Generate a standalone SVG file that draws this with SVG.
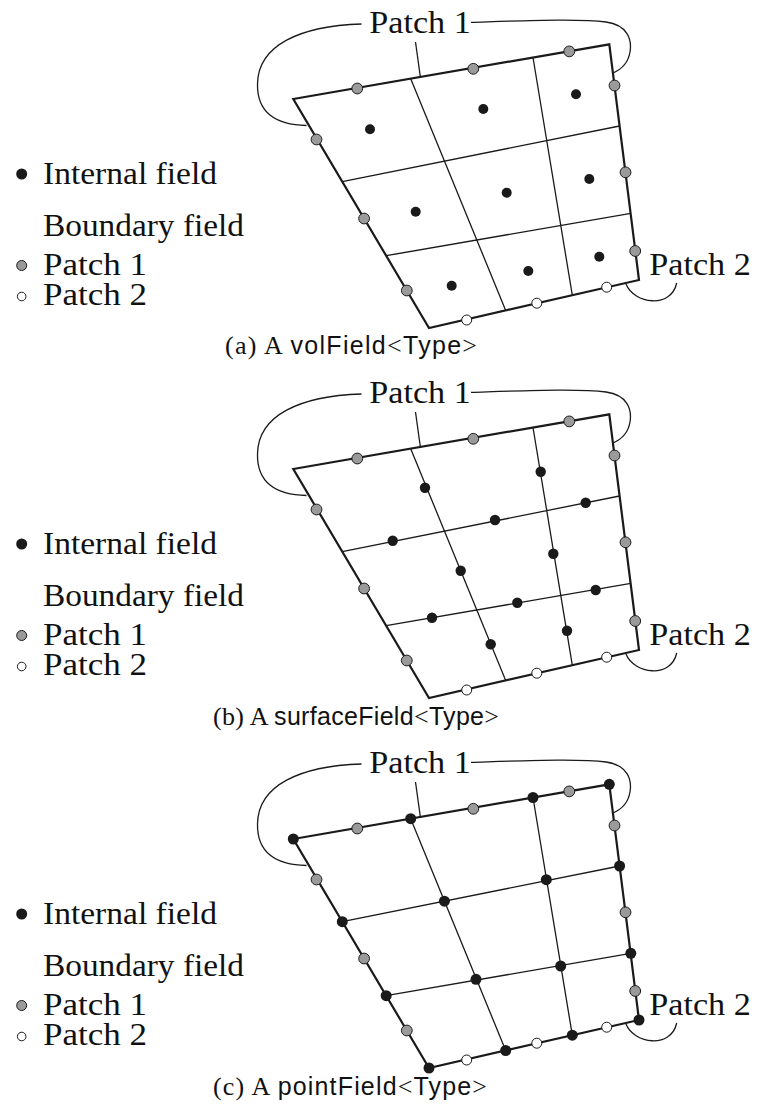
<svg xmlns="http://www.w3.org/2000/svg" xmlns:xlink="http://www.w3.org/1999/xlink" width="758" height="1111" viewBox="0 0 758 1111">
<style>
.edge{fill:none;stroke:#1a1a1a;stroke-width:2.2;stroke-linejoin:miter}
.grid{fill:none;stroke:#1a1a1a;stroke-width:1.3}
.lead{fill:none;stroke:#1a1a1a;stroke-width:1.3}
.int{fill:#1a1a1a}
.p1{fill:#9a9a9a;stroke:#1a1a1a;stroke-width:1}
.p2{fill:#ffffff;stroke:#1a1a1a;stroke-width:1}
.lbl{font-family:"Liberation Serif",serif;font-size:32px;fill:#111}
.cap{font-family:"Liberation Serif",serif;font-size:26px;fill:#111}
.sf{font-family:"Liberation Sans",sans-serif;font-size:25px}
</style>
<defs>
<g id="mesh">
<path class="grid" d="M410.7,78.7 L505.7,310.5 M533,57.5 L572.3,295.2 M342.3,181.7 L619.6,126 M386.2,255.7 L630.8,213.3"/>
<polygon class="edge" points="293.3,99 609.3,44.3 639,280 429,328"/>
</g>
<g id="leaders">
<path class="lead" d="M361.5,24 C300,26 258,45 257.5,84 C257,112 275,125 306.5,125.5"/>
<path class="lead" d="M471,22.3 C530,20.5 580,18.5 606,22 C628,25 632,40 630,52 C628,64 620,70 613,73"/>
<path class="lead" d="M415.5,42 L420.5,78"/>
<path class="lead" d="M626,284 C634,304 671,309 676.7,283"/>
</g>
<g id="bdots">
<circle class="p1" cx="357.3" cy="88.5" r="5.4"/>
<circle class="p1" cx="473.3" cy="68.8" r="5.4"/>
<circle class="p1" cx="569.3" cy="51.4" r="5.4"/>
<circle class="p1" cx="614.5" cy="85.5" r="5.4"/>
<circle class="p1" cx="625.5" cy="172.3" r="5.4"/>
<circle class="p1" cx="635.2" cy="251" r="5.4"/>
<circle class="p1" cx="316.5" cy="139.5" r="5.4"/>
<circle class="p1" cx="364.1" cy="218.5" r="5.4"/>
<circle class="p1" cx="406.8" cy="290.5" r="5.4"/>
<circle class="p2" cx="466.7" cy="320" r="5"/>
<circle class="p2" cx="536.8" cy="303.2" r="5"/>
<circle class="p2" cx="606.7" cy="287.2" r="5"/>
</g>
<g id="legdots">
<circle class="int" cx="21.7" cy="174" r="5.5"/>
<circle class="p1" cx="21.7" cy="265.5" r="5"/>
<circle class="p2" cx="21.7" cy="296.5" r="4.3"/>
</g>
</defs>

<g id="connectors">
<use xlink:href="#leaders"/>
<use xlink:href="#leaders" transform="translate(0,370)"/>
<use xlink:href="#leaders" transform="translate(0,740)"/>
</g>

<g id="panel-a">
<g id="mesh-a"><use xlink:href="#mesh"/></g>
<g id="internal-a">
<circle class="int" cx="370" cy="129.3" r="5"/>
<circle class="int" cx="483.3" cy="109" r="5"/>
<circle class="int" cx="576" cy="94.3" r="5"/>
<circle class="int" cx="415.7" cy="211.7" r="5"/>
<circle class="int" cx="506.7" cy="192.7" r="5"/>
<circle class="int" cx="589.3" cy="179" r="5"/>
<circle class="int" cx="451.7" cy="285.7" r="5"/>
<circle class="int" cx="528.3" cy="271" r="5"/>
<circle class="int" cx="599.3" cy="256.7" r="5"/>
</g>
<g id="boundary-a"><use xlink:href="#bdots"/></g>
<g id="labels-a">
<text class="lbl" x="369.3" y="33.3" textLength="101.5" lengthAdjust="spacingAndGlyphs">Patch 1</text>
<text class="lbl" x="649.3" y="275" textLength="101.5" lengthAdjust="spacingAndGlyphs">Patch 2</text>
</g>
<g id="legend-a">
<use xlink:href="#legdots"/>
<text class="lbl" x="43" y="184" textLength="174" lengthAdjust="spacingAndGlyphs">Internal field</text>
<text class="lbl" x="43" y="236" textLength="201" lengthAdjust="spacingAndGlyphs">Boundary field</text>
<text class="lbl" x="43" y="274.5" textLength="104" lengthAdjust="spacingAndGlyphs">Patch 1</text>
<text class="lbl" x="43" y="304.5" textLength="104" lengthAdjust="spacingAndGlyphs">Patch 2</text>
</g>
<text id="caption-a" class="cap" x="225" y="354" textLength="252">(a) A <tspan class="sf">volField</tspan>&lt;<tspan class="sf">Type</tspan>&gt;</text>
</g>

<g id="panel-b">
<g id="mesh-b"><use xlink:href="#mesh" transform="translate(0,370)"/></g>
<g id="internal-b" transform="translate(0,370)">
<circle class="int" cx="425" cy="117.7" r="5.2"/>
<circle class="int" cx="460.7" cy="200.7" r="5.2"/>
<circle class="int" cx="490.7" cy="274.3" r="5.2"/>
<circle class="int" cx="540.7" cy="101.7" r="5.2"/>
<circle class="int" cx="553.3" cy="183.7" r="5.2"/>
<circle class="int" cx="567" cy="260.7" r="5.2"/>
<circle class="int" cx="392.7" cy="170.7" r="5.2"/>
<circle class="int" cx="495" cy="150" r="5.2"/>
<circle class="int" cx="585.7" cy="132.7" r="5.2"/>
<circle class="int" cx="432" cy="247.7" r="5.2"/>
<circle class="int" cx="517.3" cy="232.7" r="5.2"/>
<circle class="int" cx="595.7" cy="220" r="5.2"/>
</g>
<g id="boundary-b"><use xlink:href="#bdots" transform="translate(0,370)"/></g>
<g id="labels-b">
<text class="lbl" x="369.3" y="403.3" textLength="101.5" lengthAdjust="spacingAndGlyphs">Patch 1</text>
<text class="lbl" x="649.3" y="645" textLength="101.5" lengthAdjust="spacingAndGlyphs">Patch 2</text>
</g>
<g id="legend-b">
<use xlink:href="#legdots" transform="translate(0,370)"/>
<text class="lbl" x="43" y="554" textLength="174" lengthAdjust="spacingAndGlyphs">Internal field</text>
<text class="lbl" x="43" y="606" textLength="201" lengthAdjust="spacingAndGlyphs">Boundary field</text>
<text class="lbl" x="43" y="644.5" textLength="104" lengthAdjust="spacingAndGlyphs">Patch 1</text>
<text class="lbl" x="43" y="674.5" textLength="104" lengthAdjust="spacingAndGlyphs">Patch 2</text>
</g>
<text id="caption-b" class="cap" x="213" y="724.5" textLength="286">(b) A <tspan class="sf">surfaceField</tspan>&lt;<tspan class="sf">Type</tspan>&gt;</text>
</g>

<g id="panel-c">
<g id="mesh-c"><use xlink:href="#mesh" transform="translate(0,740)"/></g>
<g id="boundary-c"><use xlink:href="#bdots" transform="translate(0,740)"/></g>
<g id="internal-c" transform="translate(0,740)">
<circle class="int" cx="293.3" cy="99" r="5.5"/>
<circle class="int" cx="410.7" cy="78.7" r="5.5"/>
<circle class="int" cx="533" cy="57.5" r="5.5"/>
<circle class="int" cx="609.3" cy="44.3" r="5.5"/>
<circle class="int" cx="619.6" cy="126" r="5.5"/>
<circle class="int" cx="630.8" cy="213.3" r="5.5"/>
<circle class="int" cx="639" cy="280" r="5.5"/>
<circle class="int" cx="572.3" cy="295.2" r="5.5"/>
<circle class="int" cx="505.7" cy="310.5" r="5.5"/>
<circle class="int" cx="429" cy="328" r="5.5"/>
<circle class="int" cx="386.2" cy="255.7" r="5.5"/>
<circle class="int" cx="342.3" cy="181.7" r="5.5"/>
<circle class="int" cx="444.4" cy="161.2" r="5.5"/>
<circle class="int" cx="546.3" cy="139.7" r="5.5"/>
<circle class="int" cx="560.7" cy="226" r="5.5"/>
<circle class="int" cx="476" cy="239.3" r="5.5"/>
</g>
<g id="labels-c">
<text class="lbl" x="369.3" y="773.3" textLength="101.5" lengthAdjust="spacingAndGlyphs">Patch 1</text>
<text class="lbl" x="649.3" y="1015" textLength="101.5" lengthAdjust="spacingAndGlyphs">Patch 2</text>
</g>
<g id="legend-c">
<use xlink:href="#legdots" transform="translate(0,740)"/>
<text class="lbl" x="43" y="924" textLength="174" lengthAdjust="spacingAndGlyphs">Internal field</text>
<text class="lbl" x="43" y="976" textLength="201" lengthAdjust="spacingAndGlyphs">Boundary field</text>
<text class="lbl" x="43" y="1014.5" textLength="104" lengthAdjust="spacingAndGlyphs">Patch 1</text>
<text class="lbl" x="43" y="1044.5" textLength="104" lengthAdjust="spacingAndGlyphs">Patch 2</text>
</g>
<text id="caption-c" class="cap" x="213" y="1095" textLength="274">(c) A <tspan class="sf">pointField</tspan>&lt;<tspan class="sf">Type</tspan>&gt;</text>
</g>
</svg>
